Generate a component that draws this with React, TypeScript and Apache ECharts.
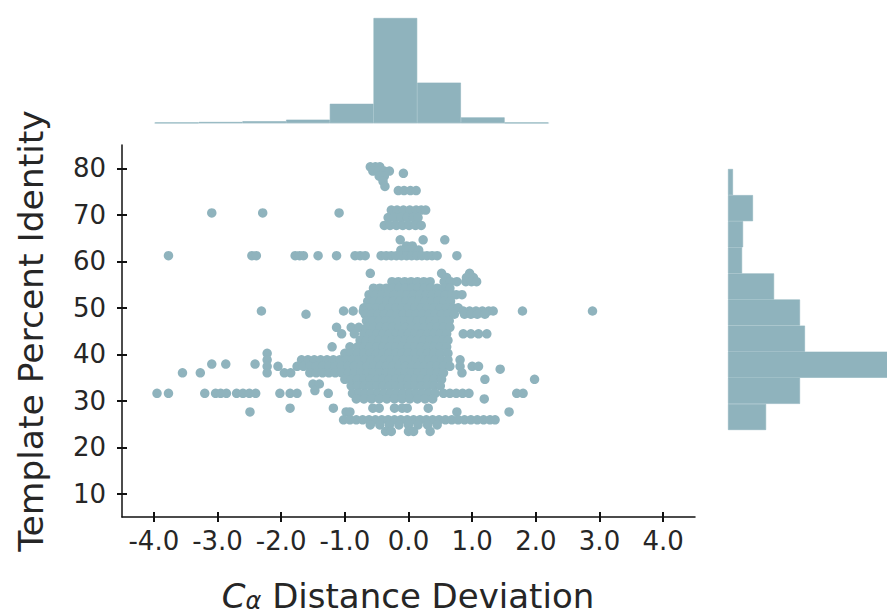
import React, { useEffect, useRef } from "react";
import * as echarts from "echarts";

const COLOR = "#8fb3bd";

const xTicks = [-4, -3, -2, -1, 0, 1, 2, 3, 4];
const yTicks = [10, 20, 30, 40, 50, 60, 70, 80];

// top marginal histogram (C-alpha distance deviation)
const topHistBins = ["-3.6", "-2.8", "-2.1", "-1.3", "-0.6", "0.2", "0.9", "1.7", "2.5"];
const topHistCounts = [6, 20, 34, 66, 380, 2080, 800, 112, 4];

// right marginal histogram (template percent identity), top bin first
const rightHistBins = ["77", "71", "66", "60", "54", "49", "43", "38", "32", "27"];
const rightHistCounts = [31, 156, 94, 88, 288, 450, 481, 1094, 450, 238];

// scatter points grouped by identity level: [y, x values]
const upperRows: [number, number[]][] = [
  [80.3, [-0.6, -0.52, -0.45]],
  [79.4, [-0.56, -0.47, -0.38, -0.3]],
  [78.9, [-0.08]],
  [78.3, [-0.46, -0.38]],
  [77.2, [-0.4]],
  [76.1, [-0.37]],
  [75.2, [-0.16, -0.07, 0.03, 0.12]],
  [71.0, [-0.27, -0.18, -0.08, 0.02, 0.12, 0.2, 0.27]],
  [70.4, [-3.09, -2.29, -1.09]],
  [69.4, [-0.32, -0.22, -0.12, -0.02, 0.08, 0.15]],
  [67.7, [-0.38, -0.29, -0.19, -0.09, 0.01, 0.11, 0.2]],
  [64.6, [-0.13, 0.23, 0.57]],
  [63.3, [-0.03, 0.06]],
  [62.4, [-0.12, -0.03, 0.07, 0.16]],
  [61.2, [-3.77, -2.46, -2.39, -1.78, -1.71, -1.65, -1.42, -1.13, -0.84, -0.76, -0.68, -0.43, -0.35, -0.27, -0.19, -0.11, -0.03, 0.05, 0.13, 0.21, 0.29, 0.37, 0.45, 0.76]],
  [57.4, [-0.6, 0.52, 0.96]],
  [56.5, [0.6, 0.91, 1.02]],
  [55.6, [-0.26, -0.16, -0.06, 0.04, 0.14, 0.24, 0.34, 0.56, 0.66, 0.76, 0.9, 0.99, 1.07]],
];

const coreRows: [number, number[]][] = [
  [54.2, [-0.55, -0.45, -0.35, -0.25, -0.15, -0.05, 0.05, 0.15, 0.25, 0.35, 0.45, 0.55, 0.65]],
  [52.8, [-0.62, -0.52, -0.42, -0.32, -0.22, -0.12, -0.02, 0.08, 0.18, 0.28, 0.38, 0.48, 0.58, 0.68, 0.75, 0.84]],
  [51.4, [-0.64, -0.54, -0.44, -0.34, -0.24, -0.14, -0.04, 0.06, 0.16, 0.26, 0.36, 0.46, 0.56, 0.66]],
  [50.0, [-0.7, -0.6, -0.5, -0.4, -0.3, -0.2, -0.1, 0.0, 0.1, 0.2, 0.3, 0.4, 0.5, 0.6, 0.7, 0.78]],
  [49.3, [-2.31, -1.02, -0.87, -0.71, 0.86, 0.96, 1.06, 1.16, 1.26, 1.33, 1.79, 2.89]],
  [48.6, [-1.61, -0.68, -0.58, -0.48, -0.38, -0.28, -0.18, -0.08, 0.02, 0.12, 0.22, 0.32, 0.42, 0.52, 0.62, 0.72, 0.88, 0.98, 1.08, 1.2]],
  [47.2, [-0.66, -0.56, -0.46, -0.36, -0.26, -0.16, -0.06, 0.04, 0.14, 0.24, 0.34, 0.44, 0.54, 0.64]],
  [45.8, [-1.13, -0.9, -0.78, -0.65, -0.55, -0.45, -0.35, -0.25, -0.15, -0.05, 0.05, 0.15, 0.25, 0.35, 0.45, 0.55, 0.65]],
  [44.4, [-1.05, -0.85, -0.7, -0.6, -0.5, -0.4, -0.3, -0.2, -0.1, 0.0, 0.1, 0.2, 0.3, 0.4, 0.5, 0.6, 0.86, 0.98, 1.1, 1.23]],
  [43.0, [-0.76, -0.66, -0.56, -0.46, -0.36, -0.26, -0.16, -0.06, 0.04, 0.14, 0.24, 0.34, 0.44, 0.54, 0.62]],
  [41.6, [-1.2, -0.92, -0.8, -0.7, -0.6, -0.5, -0.4, -0.3, -0.2, -0.1, 0.0, 0.1, 0.2, 0.3, 0.4, 0.5, 0.6]],
  [40.2, [-2.22, -1.0, -0.9, -0.8, -0.7, -0.6, -0.5, -0.4, -0.3, -0.2, -0.1, 0.0, 0.1, 0.2, 0.3, 0.4, 0.5, 0.62]],
  [38.8, [-2.22, -1.68, -1.58, -1.48, -1.38, -1.28, -1.18, -1.08, -0.98, -0.88, -0.78, -0.68, -0.58, -0.48, -0.38, -0.28, -0.18, -0.08, 0.02, 0.12, 0.22, 0.32, 0.42, 0.52, 0.62, 0.81]],
  [37.9, [-3.09, -2.87, -2.41]],
  [37.4, [-2.22, -2.05, -1.75, -1.65, -1.55, -1.45, -1.35, -1.25, -1.15, -1.05, -0.95, -0.85, -0.75, -0.65, -0.55, -0.45, -0.35, -0.25, -0.15, -0.05, 0.05, 0.15, 0.25, 0.35, 0.45, 0.55, 0.65, 0.81, 1.0, 1.1]],
  [36.8, [1.44]],
  [36.0, [-3.55, -3.27, -2.22, -1.95, -1.85, -1.55, -1.45, -1.35, -1.25, -1.15, -1.05, -0.95, -0.85, -0.75, -0.65, -0.55, -0.45, -0.35, -0.25, -0.15, -0.05, 0.05, 0.15, 0.25, 0.35, 0.45, 0.55, 0.84]],
  [34.6, [-1.0, -0.9, -0.8, -0.7, -0.6, -0.5, -0.4, -0.3, -0.2, -0.1, 0.0, 0.1, 0.2, 0.3, 0.4, 0.52, 1.2, 1.98]],
  [33.6, [-1.5, -1.4]],
  [33.2, [-0.9, -0.8, -0.7, -0.6, -0.5, -0.4, -0.3, -0.2, -0.1, 0.0, 0.1, 0.2, 0.3, 0.4, 0.5]],
  [32.2, [-1.47]],
  [31.6, [-3.95, -3.77, -3.2, -3.03, -2.95, -2.86, -2.7, -2.6, -2.5, -2.4, -2.02, -1.86, -1.75, -1.26, -0.88, -0.78, -0.68, -0.58, -0.48, -0.38, -0.28, -0.18, -0.08, 0.02, 0.12, 0.22, 0.32, 0.42, 0.55, 0.65, 0.75, 0.85, 0.95, 1.7, 1.8]],
  [30.4, [-0.82, -0.7, -0.58, -0.46, -0.34, -0.22, -0.1, 0.02, 0.14, 0.26, 0.38, 1.19]],
];

const lowerRows: [number, number[]][] = [
  [28.4, [-1.86, -1.18, -0.56, -0.46, -0.22, -0.1, -0.02, 0.31]],
  [27.6, [-2.49, -0.98, -0.92, 0.76, 1.58]],
  [25.9, [-1.02, -0.92, -0.82, -0.72, -0.62, -0.52, -0.42, -0.32, -0.22, -0.12, -0.02, 0.08, 0.18, 0.28, 0.38, 0.48, 0.58, 0.68, 0.78, 0.88, 0.98, 1.08, 1.18, 1.28, 1.36]],
  [24.8, [-0.6, -0.45, -0.3, -0.15, 0.0, 0.15, 0.3, 0.45]],
  [23.4, [-0.36, -0.27, 0.0, 0.08, 0.34]],
];

const FONT = "DejaVu Sans";

export default function App() {
  const ref = useRef<HTMLDivElement>(null);

  useEffect(() => {
    if (!ref.current) return;
    const chart = echarts.init(ref.current, null, { renderer: "svg" });

    const points = [...upperRows, ...coreRows, ...lowerRows].flatMap(([y, xs]) =>
      xs.map((x) => [x, y])
    );

    const tickLine = { color: "#111", width: 2 };

    const option: any = {
      animation: false,
      backgroundColor: "#ffffff",
      grid: [
        { left: 122, top: 145, width: 573, height: 372, containLabel: false, outerBoundsMode: "none" },
        { left: 155, top: 18, width: 393.3, height: 105, containLabel: false, outerBoundsMode: "none" },
        { left: 728, top: 169, width: 200, height: 261, containLabel: false, outerBoundsMode: "none" },
      ],
      xAxis: [
        {
          type: "value",
          gridIndex: 0,
          min: -4.5,
          max: 4.5,
          position: "bottom",
          axisLine: { show: true, onZero: false, lineStyle: { color: "#111", width: 1.5 } },
          axisTick: { show: true, inside: false, length: 5, customValues: xTicks, lineStyle: tickLine },
          axisLabel: {
            show: true,
            customValues: xTicks,
            formatter: (v: number) => Number(v).toFixed(1),
            fontFamily: FONT,
            fontSize: 26,
            color: "#262626",
            margin: 11,
          },
          splitLine: { show: false },
        },
        {
          type: "value",
          gridIndex: 0,
          min: -4.5,
          max: 4.5,
          position: "bottom",
          axisLine: { show: false, onZero: false },
          axisTick: { show: true, inside: true, length: 5, customValues: xTicks, lineStyle: tickLine },
          axisLabel: { show: false },
          splitLine: { show: false },
        },
        {
          type: "category",
          gridIndex: 1,
          data: topHistBins,
          boundaryGap: true,
          axisLine: { show: true, lineStyle: { color: "#e2ebee", width: 2 } },
          axisTick: { show: false },
          axisLabel: { show: false },
          splitLine: { show: false },
        },
        {
          type: "value",
          gridIndex: 2,
          min: 0,
          max: 1250,
          axisLine: { show: false },
          axisTick: { show: false },
          axisLabel: { show: false },
          splitLine: { show: false },
        },
      ],
      yAxis: [
        {
          type: "value",
          gridIndex: 0,
          min: 5,
          max: 85,
          position: "left",
          axisLine: { show: true, onZero: false, lineStyle: { color: "#111", width: 1.5 } },
          axisTick: { show: true, inside: false, length: 5, customValues: yTicks, lineStyle: tickLine },
          axisLabel: {
            show: true,
            customValues: yTicks,
            formatter: (v: number) => String(v),
            fontFamily: FONT,
            fontSize: 26,
            color: "#262626",
            margin: 16,
          },
          splitLine: { show: false },
        },
        {
          type: "value",
          gridIndex: 0,
          min: 5,
          max: 85,
          position: "left",
          axisLine: { show: false, onZero: false },
          axisTick: { show: true, inside: true, length: 5, customValues: yTicks, lineStyle: tickLine },
          axisLabel: { show: false },
          splitLine: { show: false },
        },
        {
          type: "value",
          gridIndex: 1,
          min: 0,
          max: 2080,
          axisLine: { show: false },
          axisTick: { show: false },
          axisLabel: { show: false },
          splitLine: { show: false },
        },
        {
          type: "category",
          gridIndex: 2,
          data: rightHistBins,
          inverse: true,
          boundaryGap: true,
          axisLine: { show: false },
          axisTick: { show: false },
          axisLabel: { show: false },
          splitLine: { show: false },
        },
      ],
      series: [
        {
          type: "scatter",
          xAxisIndex: 0,
          yAxisIndex: 0,
          data: points,
          symbol: "circle",
          symbolSize: 9.5,
          itemStyle: { color: COLOR, opacity: 1 },
          silent: true,
          emphasis: { disabled: true },
        },
        {
          type: "bar",
          xAxisIndex: 2,
          yAxisIndex: 2,
          data: topHistCounts,
          barCategoryGap: "0%",
          itemStyle: { color: COLOR, borderColor: COLOR, borderWidth: 0.6 },
          silent: true,
          emphasis: { disabled: true },
        },
        {
          type: "bar",
          xAxisIndex: 3,
          yAxisIndex: 3,
          data: rightHistCounts,
          barCategoryGap: "0%",
          itemStyle: { color: COLOR, borderColor: COLOR, borderWidth: 0.6 },
          silent: true,
          emphasis: { disabled: true },
        },
      ],
      graphic: [
        {
          type: "text",
          x: 31,
          y: 331,
          rotation: Math.PI / 2,
          silent: true,
          style: {
            text: "Template Percent Identity",
            fontFamily: FONT,
            fontSize: 34.5,
            fill: "#262626",
            align: "center",
            verticalAlign: "middle",
            textAlign: "center",
            textVerticalAlign: "middle",
          },
        },
        {
          type: "text",
          x: 408,
          y: 596,
          silent: true,
          style: {
            text: "{c|C}{a|α}{n| Distance Deviation}",
            fill: "#262626",
            align: "center",
            verticalAlign: "middle",
            textAlign: "center",
            textVerticalAlign: "middle",
            rich: {
              c: { fontFamily: FONT, fontSize: 34, fontStyle: "italic", lineHeight: 34, verticalAlign: "middle", fill: "#262626" },
              a: { fontFamily: FONT, fontSize: 24, fontStyle: "italic", lineHeight: 14, verticalAlign: "bottom", fill: "#262626" },
              n: { fontFamily: FONT, fontSize: 34, lineHeight: 34, verticalAlign: "middle", fill: "#262626" },
            },
          },
        },
      ],
    };

    chart.setOption(option);
    return () => chart.dispose();
  }, []);

  return (
    <div
      ref={ref}
      style={{ position: "absolute", left: 0, top: 0, width: 887, height: 616, background: "#fff" }}
    />
  );
}
